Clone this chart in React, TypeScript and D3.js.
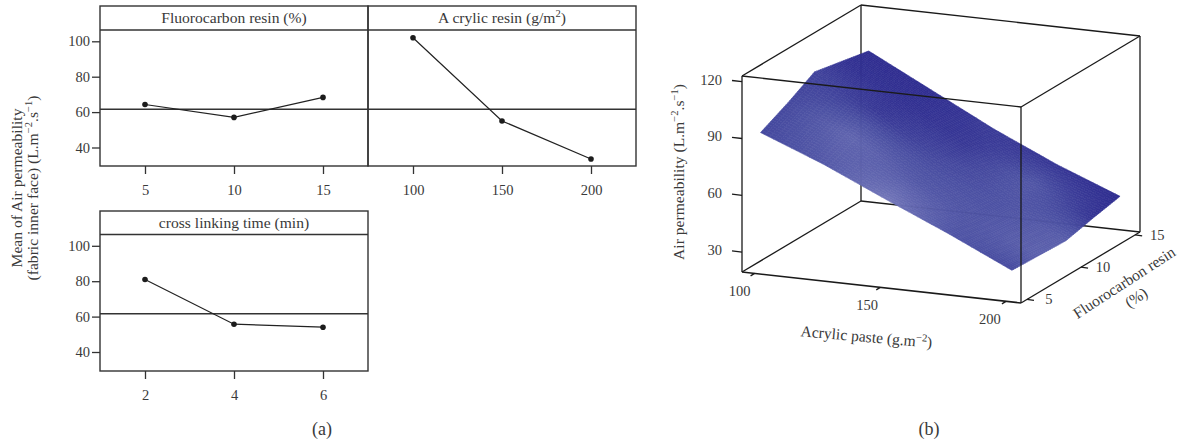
import React, { useRef, useEffect } from "react";
import * as d3 from "d3";

// main effects plot (a)
const fluoroLevels = [5, 10, 15];
const fluoroMeans = [64.3, 57, 68.3];
const acrylicLevels = [100, 150, 200];
const acrylicMeans = [102, 55, 33.5];
const timeLevels = [2, 4, 6];
const timeMeans = [81, 55.7, 54];
const grandMean = 61.6;
const meanTicks = [40, 60, 80, 100];

// response surface (b)
const surfaceAcrylic = [100, 125, 150, 175, 200];
const surfaceFluoro = [5, 7.5, 10, 12.5, 15];
const surfaceValues = [
  [92, 99, 107, 104, 101],
  [79, 85, 90, 87, 84],
  [64, 66, 68, 67, 67],
  [49.5, 49, 48, 50, 52],
  [34, 33.3, 32.6, 36, 39],
];
// how pale the surface looks at each grid node, 0 to 1
const surfaceLight = [
  [0.3, 0.3, 0.25, 0.05, 0],
  [0.5, 0.72, 0.12, 0.03, 0],
  [1, 0.5, 0.3, 0.12, 0.15],
  [0.45, 0.45, 0.42, 0.5, 0.08],
  [0.3, 0.65, 0.6, 0.08, 0],
];
const zTicks = [30, 60, 90, 120];
const acrylicTicks = [100, 150, 200];
const fluoroTicks = [5, 10, 15];

const INK = "#333";
const FONT = "'Liberation Serif', serif";
const TICK_SIZE = 14.5;
const LABEL_SIZE = 15.6;

const App = () => {
  const chartRef = useRef<SVGSVGElement | null>(null);

  useEffect(() => {
    const svg = d3.select(chartRef.current);
    svg.selectAll("*").remove();

    const addText = (
      parent: any,
      x: number,
      y: number,
      parts: [string, boolean][],
      size: number,
      rotate = 0,
      anchor = "middle"
    ) => {
      const t = parent
        .append("text")
        .attr("transform", `translate(${x},${y}) rotate(${rotate})`)
        .attr("text-anchor", anchor)
        .attr("font-family", FONT)
        .attr("font-size", size)
        .attr("fill", "#3a3a3a");
      let raised = false;
      parts.forEach(([s, sup]) => {
        const span = t.append("tspan").text(s);
        if (sup) span.attr("font-size", size * 0.68).attr("dy", -size * 0.36);
        else if (raised) span.attr("dy", size * 0.36);
        raised = sup;
      });
      return t;
    };

    const panel = (
      left: number,
      top: number,
      stripBottom: number,
      bottom: number,
      title: [string, boolean][],
      levels: number[],
      means: number[],
      y40: number,
      showY: boolean
    ) => {
      const width = 268;
      const g = svg.append("g");
      const x = d3
        .scaleLinear()
        .domain([levels[0], levels[2]])
        .range([left + 45, left + 223]);
      const y = d3
        .scaleLinear()
        .domain([40, 100])
        .range([y40, y40 - 106.2]);

      g.append("rect")
        .attr("x", left)
        .attr("y", top)
        .attr("width", width)
        .attr("height", bottom - top)
        .attr("fill", "none")
        .attr("stroke", INK)
        .attr("stroke-width", 1.4);
      g.append("line")
        .attr("x1", left)
        .attr("x2", left + width)
        .attr("y1", stripBottom)
        .attr("y2", stripBottom)
        .attr("stroke", INK)
        .attr("stroke-width", 1.4);
      g.append("line")
        .attr("x1", left)
        .attr("x2", left + width)
        .attr("y1", y(grandMean))
        .attr("y2", y(grandMean))
        .attr("stroke", INK)
        .attr("stroke-width", 1.4);

      addText(g, left + width / 2, top + 17, title, LABEL_SIZE);

      const xAxis = g
        .append("g")
        .attr("transform", `translate(0,${bottom})`)
        .call(
          d3
            .axisBottom(x)
            .tickValues(levels)
            .tickFormat(d3.format("d") as any)
            .tickSize(8)
            .tickSizeOuter(0)
            .tickPadding(11)
        );
      xAxis.select(".domain").remove();
      xAxis.selectAll("line").attr("stroke", INK).attr("stroke-width", 1.3);
      xAxis.selectAll("text").attr("font-family", FONT).attr("font-size", TICK_SIZE).attr("fill", "#3a3a3a");

      if (showY) {
        const yAxis = g
          .append("g")
          .attr("transform", `translate(${left},0)`)
          .call(d3.axisLeft(y).tickValues(meanTicks).tickSize(8).tickSizeOuter(0).tickPadding(2));
        yAxis.select(".domain").remove();
        yAxis.selectAll("line").attr("stroke", INK).attr("stroke-width", 1.3);
        yAxis.selectAll("text").attr("font-family", FONT).attr("font-size", TICK_SIZE).attr("fill", "#3a3a3a");
      }

      const line = d3
        .line<number>()
        .x((_, i) => x(levels[i]))
        .y((d) => y(d));
      g.append("path")
        .attr("d", line(means))
        .attr("fill", "none")
        .attr("stroke", "#222")
        .attr("stroke-width", 1.2);
      g.selectAll("circle")
        .data(means)
        .enter()
        .append("circle")
        .attr("cx", (_, i) => x(levels[i]))
        .attr("cy", (d) => y(d))
        .attr("r", 2.8)
        .attr("fill", "#1c1c1c");
    };

    panel(100, 6, 30, 166, [["Fluorocarbon resin (%)", false]], fluoroLevels, fluoroMeans, 147.5, true);
    panel(368, 6, 30, 166, [["A crylic resin (g/m", false], ["2", true], [")", false]], acrylicLevels, acrylicMeans, 147.5, false);
    panel(100, 211, 234.5, 371, [["cross linking time (min)", false]], timeLevels, timeMeans, 352, true);

    addText(svg, 22, 188, [["Mean of Air permeability", false]], LABEL_SIZE, -90);
    addText(
      svg,
      38,
      188,
      [["(fabric inner face) (L.m", false], ["−2", true], [".s", false], ["−1", true], [")", false]],
      LABEL_SIZE,
      -90
    );
    addText(svg, 322, 435, [["(a)", false]], 18);
    addText(svg, 929, 435, [["(b)", false]], 18);

    // 3d box: oblique projection from the three box edges
    const origin = [742, 272];
    const ex = [279, 31];
    const ey = [119, -71];
    const ez = [0, -196];
    const ua = d3.scaleLinear().domain([95, 206]).range([0, 1]);
    const uf = d3.scaleLinear().domain([4.45, 15.45]).range([0, 1]);
    const uz = d3.scaleLinear().domain([19.5, 123]).range([0, 1]);
    const project = (a: number, b: number, c: number) => [
      origin[0] + a * ex[0] + b * ey[0] + c * ez[0],
      origin[1] + a * ex[1] + b * ey[1] + c * ez[1],
    ];
    const edge = (g: any, p: number[], q: number[], w = 1.3) =>
      g
        .append("line")
        .attr("x1", p[0])
        .attr("y1", p[1])
        .attr("x2", q[0])
        .attr("y2", q[1])
        .attr("stroke", "#1a1a1a")
        .attr("stroke-width", w);

    const back = svg.append("g");
    edge(back, project(0, 1, 0), project(0, 1, 1));
    edge(back, project(1, 1, 0), project(1, 1, 1));
    edge(back, project(0, 1, 0), project(1, 1, 0));
    edge(back, project(0, 0, 0), project(0, 1, 0));
    edge(back, project(0, 0, 1), project(0, 1, 1));
    edge(back, project(0, 1, 1), project(1, 1, 1));
    edge(back, project(1, 0, 1), project(1, 1, 1));

    // surface
    const shade = d3
      .scaleLinear<string>()
      .domain([0, 0.4, 1])
      .range(["#2f2d90", "#4c51a3", "#7478ba"]);
    const bilinear = (grid: number[][], i: number, j: number) => {
      const i0 = Math.min(Math.floor(i), grid.length - 2);
      const j0 = Math.min(Math.floor(j), grid[0].length - 2);
      const s = i - i0;
      const t = j - j0;
      return (
        grid[i0][j0] * (1 - s) * (1 - t) +
        grid[i0 + 1][j0] * s * (1 - t) +
        grid[i0][j0 + 1] * (1 - s) * t +
        grid[i0 + 1][j0 + 1] * s * t
      );
    };
    const acrylicAt = d3.scaleLinear().domain([0, surfaceAcrylic.length - 1]).range([surfaceAcrylic[0], surfaceAcrylic[surfaceAcrylic.length - 1]]);
    const fluoroAt = d3.scaleLinear().domain([0, surfaceFluoro.length - 1]).range([surfaceFluoro[0], surfaceFluoro[surfaceFluoro.length - 1]]);
    const node = (i: number, j: number) =>
      project(ua(acrylicAt(i)), uf(fluoroAt(j)), uz(bilinear(surfaceValues, i, j)));

    const steps = 14;
    const surface = svg.append("g");
    const nI = (surfaceAcrylic.length - 1) * steps;
    const nJ = (surfaceFluoro.length - 1) * steps;
    for (let b = nJ - 1; b >= 0; b--) {
      for (let a = 0; a < nI; a++) {
        const i = a / steps;
        const j = b / steps;
        const d = 1 / steps;
        const pts = [node(i, j), node(i + d, j), node(i + d, j + d), node(i, j + d)];
        const c = shade(bilinear(surfaceLight, i + d / 2, j + d / 2));
        surface
          .append("path")
          .attr("d", `M${pts.join("L")}Z`)
          .attr("fill", c)
          .attr("stroke", c)
          .attr("stroke-width", 0.6);
      }
    }

    const front = svg.append("g");
    edge(front, project(0, 0, 0), project(1, 0, 0), 1.6);
    edge(front, project(0, 0, 0), project(0, 0, 1));
    edge(front, project(1, 0, 0), project(1, 0, 1));
    edge(front, project(0, 0, 1), project(1, 0, 1));
    edge(front, project(1, 0, 0), project(1, 1, 0));

    // 3d ticks
    zTicks.forEach((v) => {
      const p = project(0, 0, uz(v));
      edge(front, p, [p[0] - 10, p[1] - 1.2]);
      addText(front, p[0] - 20, p[1] + 3, [[String(v), false]], TICK_SIZE, 0, "end");
    });
    const acrylicLabelShift = [-15, -13, -16];
    acrylicTicks.forEach((v, i) => {
      const p = project(ua(v), 0, 0);
      edge(front, p, [p[0] - 4, p[1] + 2.5]);
      addText(front, p[0] + acrylicLabelShift[i], p[1] + 23, [[String(v), false]], TICK_SIZE);
    });
    fluoroTicks.forEach((v) => {
      const p = project(1, uf(v), 0);
      edge(front, p, [p[0] + 7, p[1] + 1]);
      addText(front, p[0] + 22, p[1] + 5, [[String(v), false]], TICK_SIZE);
    });

    addText(
      svg,
      684,
      172,
      [["Air permeability (L.m", false], ["−2", true], [".s", false], ["−1", true], [")", false]],
      LABEL_SIZE,
      -90
    );
    addText(svg, 866, 342, [["Acrylic paste (g.m", false], ["−2", true], [")", false]], LABEL_SIZE, 5);
    addText(svg, 1127, 287, [["Fluorocarbon resin", false]], LABEL_SIZE, -33);
    addText(svg, 1139, 302, [["(%)", false]], LABEL_SIZE, -33);
  }, []);

  return (
    <svg
      ref={chartRef}
      width={1178}
      height={445}
      style={{ position: "absolute", left: 0, top: 0, background: "#fff" }}
    />
  );
};

export default App;
